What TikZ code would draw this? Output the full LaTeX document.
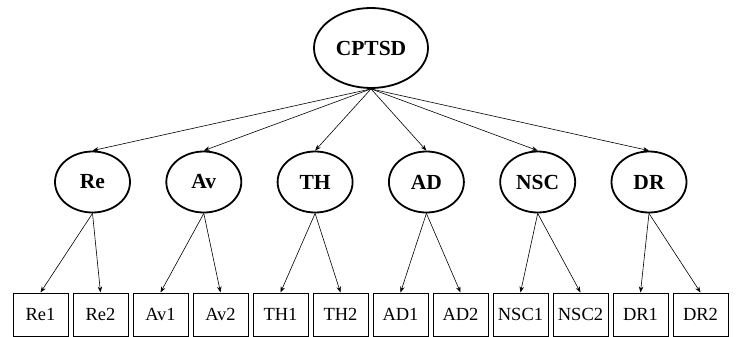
\documentclass[tikz,border=0pt]{standalone}
\usepackage{fontspec}
\setmainfont{Liberation Serif}
\usetikzlibrary{shapes.geometric,arrows.meta}
\tikzset{
  latent/.style={ellipse,draw,line width=1.8pt,inner sep=0pt,font=\fontsize{21.5}{24}\selectfont\bfseries},
  topfactor/.style={latent,minimum width=114pt,minimum height=80pt},
  factor/.style={latent,minimum width=75pt,minimum height=61pt},
  item/.style={rectangle,draw,line width=1pt,minimum width=55pt,minimum height=43pt,inner sep=0pt,font=\fontsize{18.5}{21}\selectfont},
  load/.style={-{Stealth[length=6pt,width=4.5pt]},line width=0.6pt}
}
\begin{document}
\begin{tikzpicture}[x=1pt,y=-1pt]
  \useasboundingbox (0,0) rectangle (739,337);
  \draw
    (371,48) node[topfactor] (CPTSD){CPTSD}
    (92.5,182) node[factor] (Re){Re}
    (203.8,182) node[factor] (Av){Av}
    (315.1,182) node[factor] (TH){TH}
    (426.4,182) node[factor] (AD){AD}
    (537.7,182) node[factor] (NSC){NSC}
    (649,182) node[factor] (DR){DR};
  \draw
    (40.5,314.5) node[item] (Re1){Re1}
    (100.5,314.5) node[item] (Re2){Re2}
    (160.5,314.5) node[item] (Av1){Av1}
    (220.5,314.5) node[item] (Av2){Av2}
    (280.5,314.5) node[item] (TH1){TH1}
    (340.5,314.5) node[item] (TH2){TH2}
    (400.5,314.5) node[item] (AD1){AD1}
    (460.5,314.5) node[item] (AD2){AD2}
    (520.5,314.5) node[item] (NSC1){NSC1}
    (580.5,314.5) node[item] (NSC2){NSC2}
    (640.5,314.5) node[item] (DR1){DR1}
    (700.5,314.5) node[item] (DR2){DR2};
  \begin{scope}[load]
    \draw (CPTSD.south) to (Re.north);
    \draw (CPTSD.south) to (Av.north);
    \draw (CPTSD.south) to (TH.north);
    \draw (CPTSD.south) to (AD.north);
    \draw (CPTSD.south) to (NSC.north);
    \draw (CPTSD.south) to (DR.north);
    \draw (Re.south) to (Re1.north);
    \draw (Re.south) to (Re2.north);
    \draw (Av.south) to (Av1.north);
    \draw (Av.south) to (Av2.north);
    \draw (TH.south) to (TH1.north);
    \draw (TH.south) to (TH2.north);
    \draw (AD.south) to (AD1.north);
    \draw (AD.south) to (AD2.north);
    \draw (NSC.south) to (NSC1.north);
    \draw (NSC.south) to (NSC2.north);
    \draw (DR.south) to (DR1.north);
    \draw (DR.south) to (DR2.north);
  \end{scope}
\end{tikzpicture}
\end{document}
